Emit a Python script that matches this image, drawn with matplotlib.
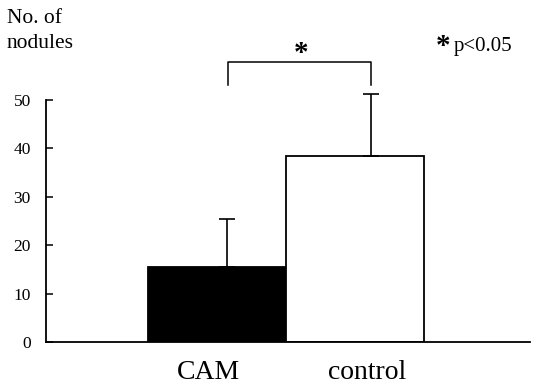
#!/usr/bin/env python3

import matplotlib
matplotlib.use("Agg")
import matplotlib.pyplot as plt

groups = ["CAM", "control"]
means = [15.5, 38.4]
sd_upper = [9.9, 12.8]
bar_colors = ["black", "white"]
y_ticks = [0, 10, 20, 30, 40, 50]
p_note = "p<0.05"
y_label = "No. of\nnodules"


def main():
    plt.rcParams["font.family"] = ["Liberation Serif", "DejaVu Serif"]
    fig = plt.figure(figsize=(5.36, 3.84), dpi=100)
    ax = fig.add_axes([0.0858, 0.1094, 0.903, 0.6302])

    xs = list(range(len(groups)))
    ax.bar(xs, means, width=1.0, color=bar_colors, edgecolor="black",
           linewidth=1.3, zorder=2)

    # error bars are drawn a little to the right of the bar centres in the original
    err_x = [x + dx for x, dx in zip(xs, [0.075, 0.12])]
    ax.errorbar(err_x, means, yerr=[[0, 0], sd_upper], fmt="none",
                ecolor="black", elinewidth=1.2, capsize=5.5, capthick=1.2,
                clip_on=False, zorder=3)

    # significance bracket
    top = max(m + s for m, s in zip(means, sd_upper))
    br_y = top + 6.6
    leg_y = top + 2.0
    ax.plot([err_x[0] + 0.005, err_x[0] + 0.005, err_x[1], err_x[1]],
            [leg_y, br_y, br_y, leg_y], color="black", linewidth=1.1,
            clip_on=False)
    ax.text((err_x[0] + err_x[1]) / 2 + 0.01, br_y - 0.9, "*", ha="center",
            va="bottom", fontsize=21, fontweight="bold", clip_on=False)

    ax.set_xlim(-1.24, 2.27)
    ax.set_ylim(0, 50)
    ax.set_yticks(y_ticks)
    ax.set_xticks([-0.065, 1.087])
    ax.set_xticklabels(groups, fontsize=20)
    ax.tick_params(axis="x", length=0, pad=13)
    ax.tick_params(axis="y", direction="in", length=5, width=1.1,
                   labelsize=12.5, pad=11)

    for side in ("top", "right"):
        ax.spines[side].set_visible(False)
    for side in ("left", "bottom"):
        ax.spines[side].set_linewidth(1.3)

    fig.text(7 / 536, 1 - 9 / 384, y_label, ha="left", va="top",
             fontsize=15.5, linespacing=1.45)
    fig.text(436 / 536, 1 - 46 / 384, "*", ha="left", va="center",
             fontsize=21, fontweight="bold")
    fig.text(454 / 536, 1 - 46 / 384, p_note, ha="left", va="center",
             fontsize=15)

    fig.savefig("out.png", dpi=100)


if __name__ == "__main__":
    main()
